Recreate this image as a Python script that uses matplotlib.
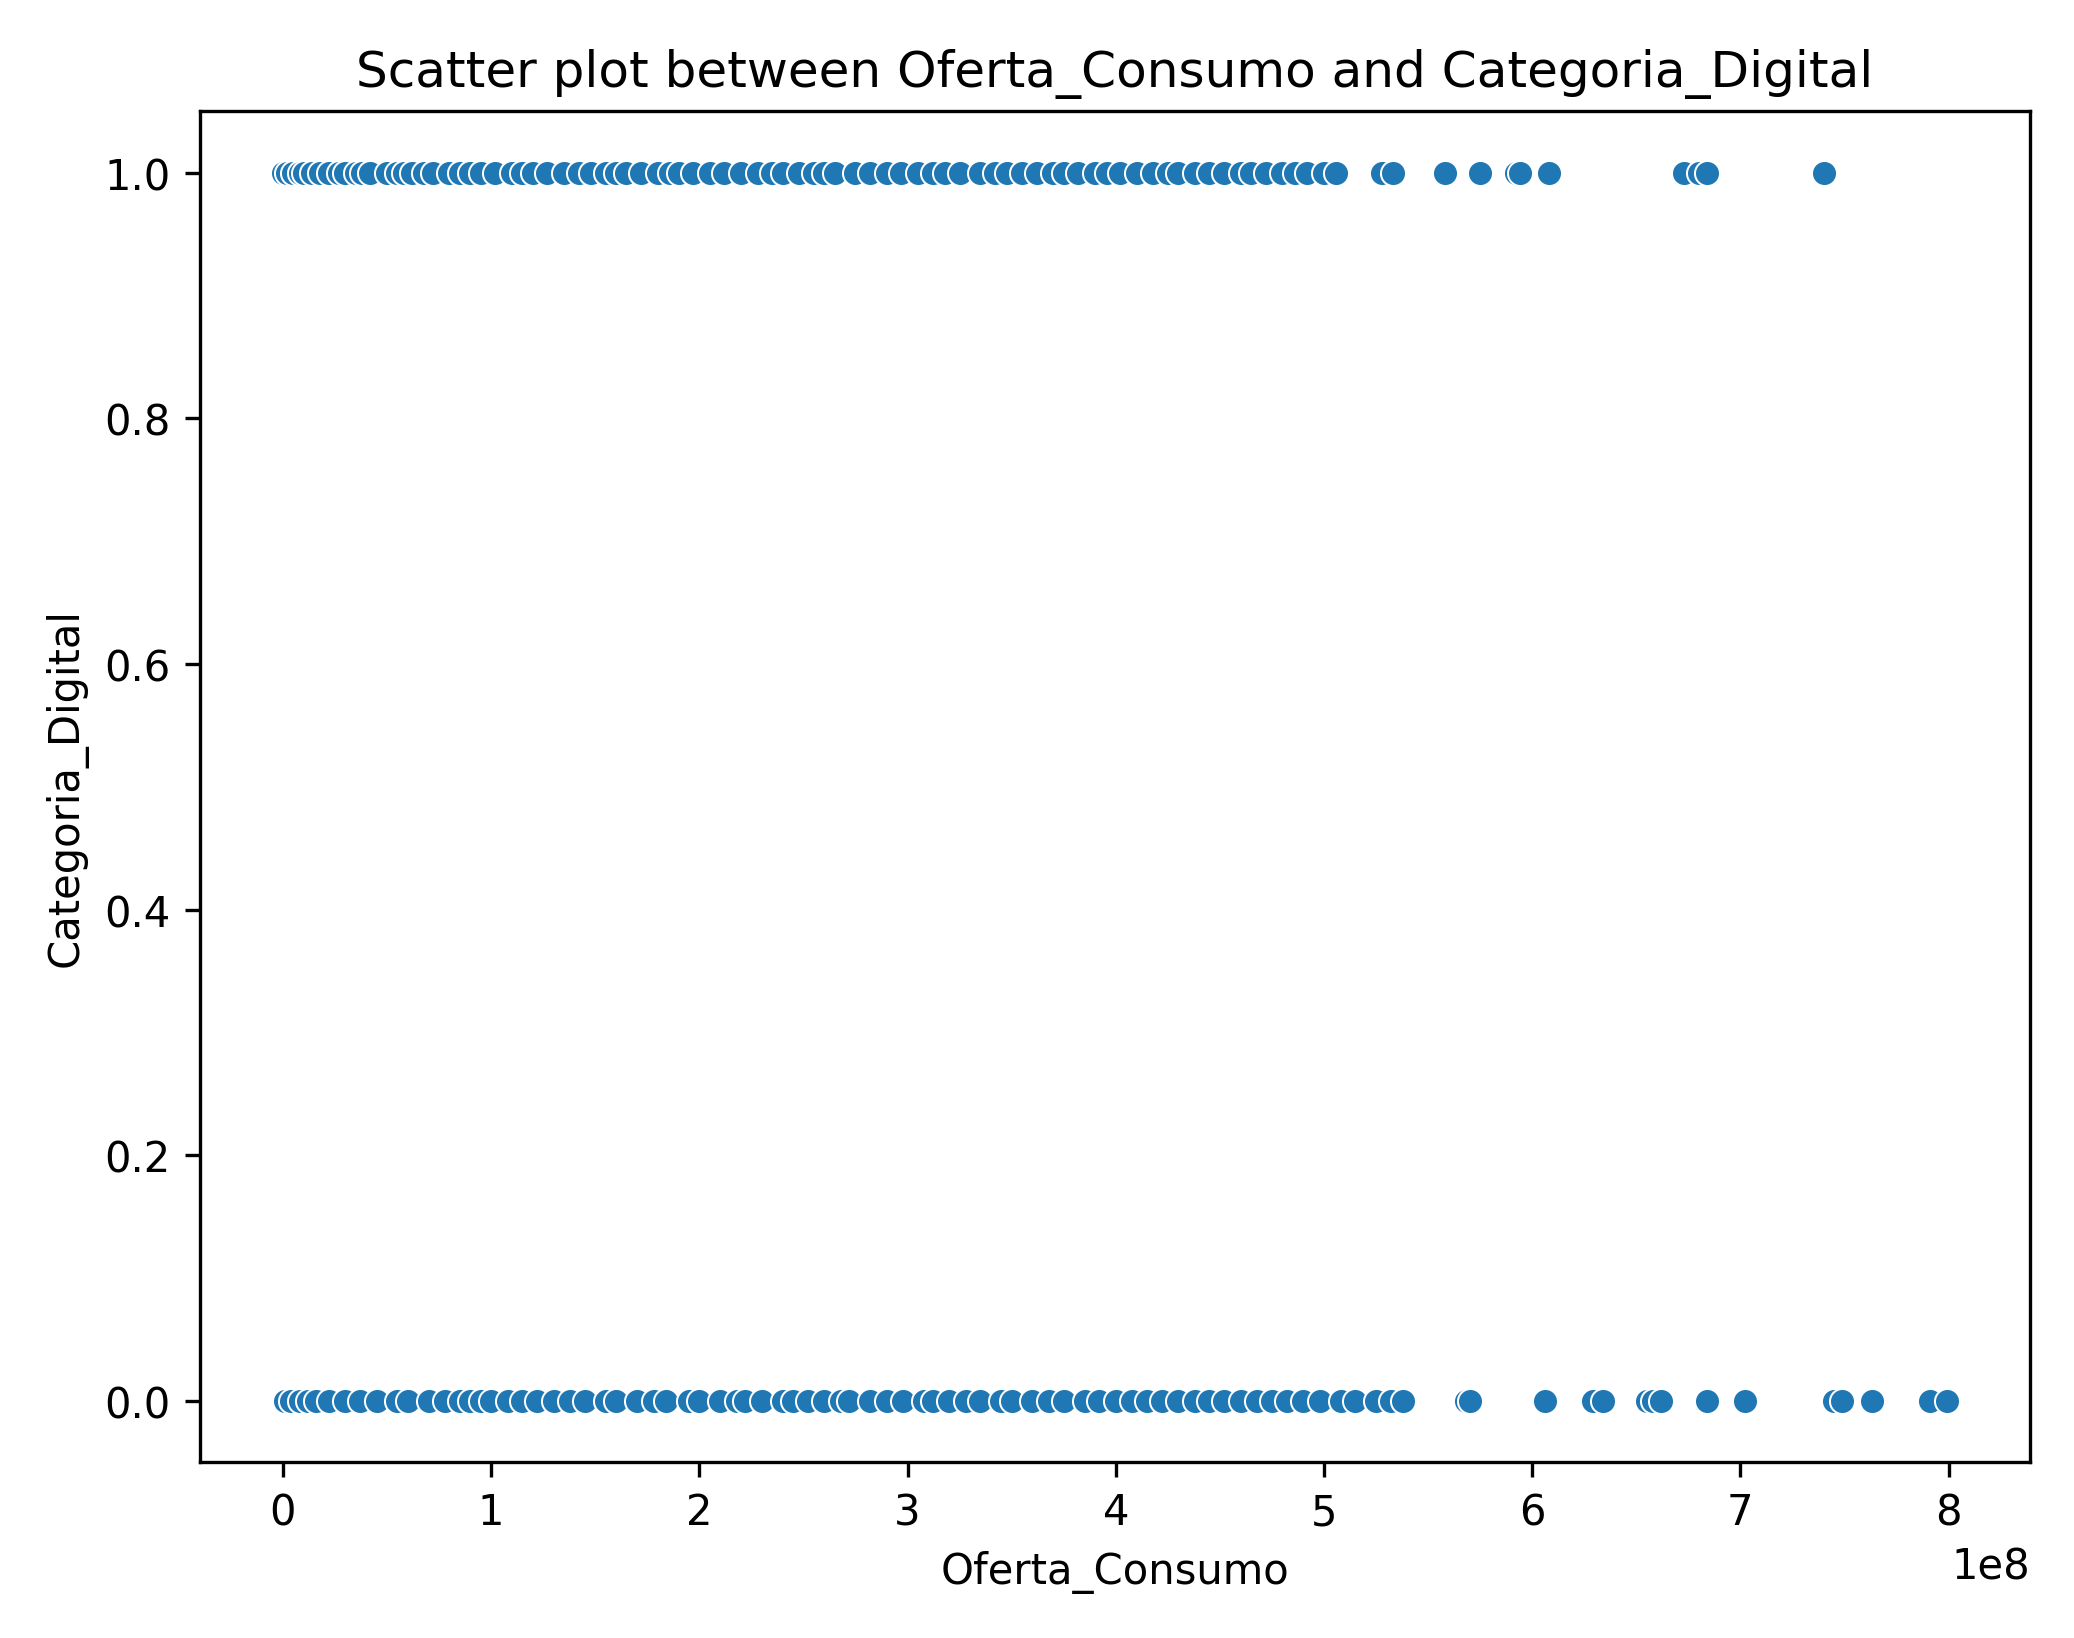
import matplotlib
matplotlib.use('Agg')
import matplotlib.pyplot as plt
import seaborn as sns
import pandas as pd

# Oferta_Consumo values (units of 1e8) for Categoria_Digital = 1
x_digital = [0.0, 0.02, 0.05, 0.08, 0.1, 0.14, 0.18, 0.22, 0.27, 0.3, 0.35, 0.38, 0.42, 0.5, 0.55,
             0.58, 0.62, 0.68, 0.72, 0.8, 0.85, 0.9, 0.95, 1.02, 1.1, 1.15, 1.2, 1.27, 1.35,
             1.42, 1.48, 1.55, 1.6, 1.65, 1.72, 1.8, 1.86, 1.9, 1.97, 2.05, 2.12, 2.2, 2.28,
             2.35, 2.4, 2.48, 2.55, 2.6, 2.65, 2.75, 2.82, 2.9, 2.97, 3.05, 3.12, 3.18, 3.25,
             3.35, 3.42, 3.48, 3.55, 3.62, 3.7, 3.75, 3.82, 3.9, 3.96, 4.02, 4.1, 4.18, 4.25,
             4.3, 4.38, 4.45, 4.52, 4.6, 4.65, 4.72, 4.8, 4.86, 4.92, 5.0, 5.06, 5.28, 5.33,
             5.58, 5.75, 5.92, 5.94, 6.08, 6.73, 6.80, 6.84, 7.40]
# Oferta_Consumo values (units of 1e8) for Categoria_Digital = 0
x_other = [0.01, 0.04, 0.08, 0.12, 0.16, 0.22, 0.3, 0.37, 0.45, 0.55, 0.6, 0.7, 0.78, 0.85,
           0.9, 0.95, 1.0, 1.08, 1.15, 1.22, 1.3, 1.38, 1.45, 1.55, 1.6, 1.7, 1.78, 1.84,
           1.95, 2.0, 2.1, 2.18, 2.22, 2.3, 2.4, 2.45, 2.52, 2.6, 2.68, 2.72, 2.82, 2.9,
           2.98, 3.08, 3.12, 3.2, 3.28, 3.35, 3.45, 3.5, 3.6, 3.68, 3.75, 3.85, 3.92, 4.0,
           4.08, 4.15, 4.22, 4.3, 4.38, 4.45, 4.52, 4.6, 4.68, 4.75, 4.82, 4.9, 4.98, 5.08,
           5.15, 5.25, 5.32, 5.38, 5.68, 5.70, 6.06, 6.29, 6.34, 6.55, 6.58, 6.62, 6.84,
           7.02, 7.45, 7.49, 7.63, 7.91, 7.99]

df = pd.DataFrame({
    'Oferta_Consumo': [v * 1e8 for v in x_digital + x_other],
    'Categoria_Digital': [1] * len(x_digital) + [0] * len(x_other),
})

plt.figure(figsize=(6.9, 5.45))
sns.scatterplot(data=df, x='Oferta_Consumo', y='Categoria_Digital')
plt.title('Scatter plot between Oferta_Consumo and Categoria_Digital')
plt.tight_layout()
plt.savefig('out.png', dpi=300.7)
